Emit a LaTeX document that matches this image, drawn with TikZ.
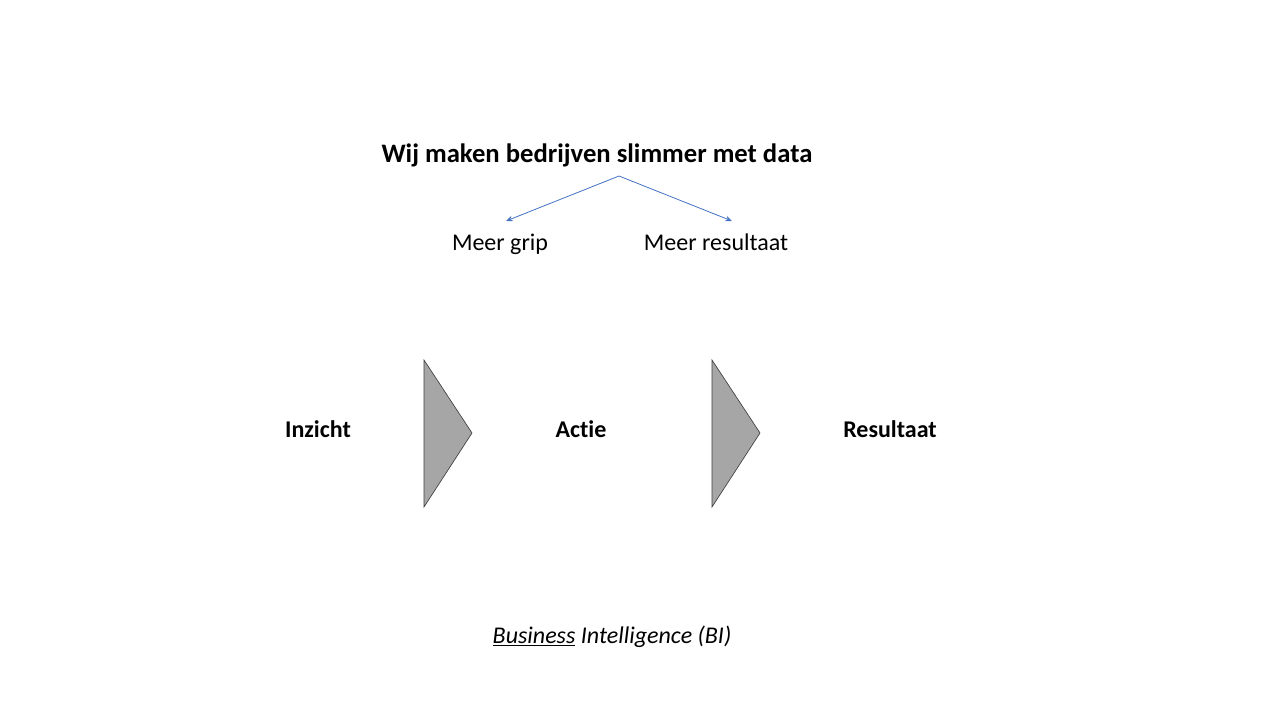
\documentclass[tikz,border=0pt]{standalone}
\usepackage{fontspec}
\setmainfont{Carlito}[Ligatures=NoCommon]
\usetikzlibrary{arrows.meta}
\definecolor{pijlblauw}{HTML}{4472C4}
\definecolor{driegrijs}{HTML}{A6A6A6}
\definecolor{randgrijs}{HTML}{404040}
\tikzset{
  kop/.style={anchor=base, font=\fontsize{20}{24}\selectfont\bfseries},
  sub/.style={anchor=base, font=\fontsize{18}{22}\selectfont},
  stap/.style={anchor=base, font=\fontsize{18}{22}\selectfont\bfseries},
  pijl/.style={draw=pijlblauw, line width=0.6pt, -{Stealth[length=5pt,width=4pt]}},
  driehoek/.style={fill=driegrijs, draw=randgrijs, line width=0.5pt},
}

\begin{document}
\begin{tikzpicture}[x=0.75pt, y=-0.75pt]
  \useasboundingbox[fill=white] (0,0) rectangle (1280,720);

  \node[kop] (motto) at (597,163) {Wij maken bedrijven slimmer met data};
  \coordinate (split) at (619,176);
  \node[sub] (grip) at (500,250) {Meer grip};
  \node[sub] (result) at (716,250) {Meer resultaat};
  \coordinate (gripin) at (506,221);
  \coordinate (resultin) at (732,221);

  \draw[pijl] (split) -- (gripin);
  \draw[pijl] (split) -- (resultin);

  \node[stap] (inzicht) at (318,437) {Inzicht};
  \node[stap] (actie) at (581,437) {Actie};
  \node[stap] (resultaat) at (890,437) {Resultaat};

  % chevrons between the steps
  \draw[driehoek] (424,360) -- (472,433) -- (424,507) -- cycle;
  \draw[driehoek] (712,360) -- (760,433) -- (712,507) -- cycle;

  \node[sub, font=\fontsize{18}{22}\selectfont\itshape] (bi) at (612,643)
    {\underline{Business} Intelligence (BI)};
\end{tikzpicture}
\end{document}
